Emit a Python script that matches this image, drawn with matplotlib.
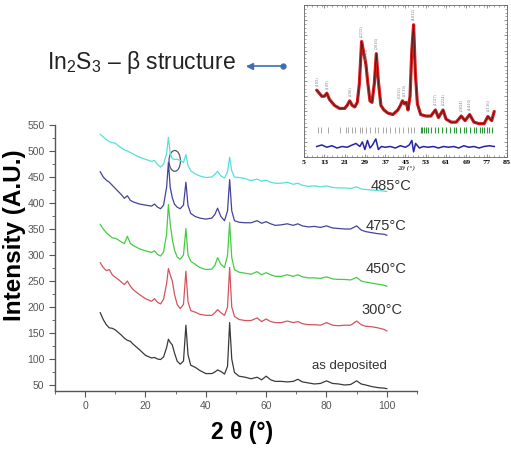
import matplotlib
matplotlib.use("Agg")
import matplotlib.pyplot as plt
from matplotlib.patches import Ellipse
from matplotlib.lines import Line2D

plt.rcParams['font.family'] = ['Liberation Sans', 'DejaVu Sans']
plt.rcParams['mathtext.fontset'] = 'custom'
plt.rcParams['mathtext.rm'] = 'Liberation Sans'

# main XRD patterns, all sampled on the same 2-theta grid
two_theta = [5, 6, 7, 8, 9, 10, 11, 12, 13, 14,
             15, 16, 18, 20, 22, 23, 24, 25, 26, 27,
             27.6, 28.2, 28.9, 29.6, 30.5, 31.5, 32.6, 33.4, 34.1, 35,
             36.5, 38, 40, 42, 43, 43.9, 45, 46.2, 47.2, 47.9,
             48.6, 49.5, 51, 53, 55, 57, 58.5, 60, 61.5, 63,
             65, 67, 69, 70.5, 72, 74, 76, 78, 80, 82,
             84, 86, 88, 90, 91.5, 93, 95, 97, 99, 100]

as_deposited = [189, 176, 166, 160, 159, 156, 151, 146, 140, 136,
                134, 128, 118, 107, 102, 103, 100, 99, 104, 122,
                138, 132, 127, 112, 96, 90, 96, 165, 108, 88,
                84, 78, 72, 72, 75, 79, 76, 71, 86, 170,
                100, 74, 67, 65, 62, 65, 60, 67, 60, 57,
                57, 56, 57, 61, 56, 54, 52, 53, 58, 53,
                52, 50, 51, 58, 52, 50, 47, 45, 44, 43]

t300 = [285, 276, 270, 272, 262, 257, 253, 248, 243, 250,
        240, 233, 224, 216, 211, 216, 209, 206, 215, 245,
        274, 262, 250, 225, 205, 197, 205, 269, 210, 193,
        190, 186, 184, 184, 189, 195, 189, 184, 200, 276,
        200, 182, 176, 174, 174, 179, 172, 177, 172, 170,
        170, 173, 170, 172, 168, 166, 166, 165, 170, 165,
        164, 165, 165, 173, 166, 163, 162, 160, 157, 154]

t450 = [359, 350, 343, 338, 333, 332, 329, 325, 322, 336,
        322, 318, 312, 308, 305, 308, 301, 298, 306, 340,
        397, 360, 330, 310, 296, 292, 300, 351, 300, 288,
        282, 276, 272, 273, 280, 295, 282, 276, 300, 362,
        295, 272, 267, 265, 263, 268, 262, 266, 262, 259,
        259, 262, 259, 262, 258, 256, 256, 255, 258, 254,
        253, 253, 252, 257, 250, 248, 246, 244, 242, 240]

t475 = [460, 450, 444, 440, 434, 428, 422, 416, 409, 414,
        405, 402, 398, 396, 394, 398, 392, 389, 396, 430,
        478, 430, 410, 398, 392, 389, 396, 440, 395, 380,
        374, 371, 369, 371, 378, 390, 374, 366, 385, 445,
        385, 366, 363, 362, 362, 366, 361, 364, 360, 357,
        358, 360, 357, 360, 356, 354, 355, 353, 356, 352,
        351, 350, 350, 356, 348, 345, 343, 341, 340, 338]

t485 = [532, 527, 522, 518, 516, 515, 510, 506, 502, 500,
        497, 494, 488, 484, 480, 482, 474, 469, 475, 495,
        526, 495, 485, 484, 484, 482, 478, 493, 472, 462,
        456, 452, 449, 450, 455, 461, 452, 448, 460, 488,
        462, 450, 449, 447, 443, 446, 442, 444, 440, 438,
        438, 440, 436, 438, 434, 432, 433, 431, 433, 430,
        429, 429, 428, 431, 427, 426, 425, 424, 423, 422]

series = [as_deposited, t300, t450, t475, t485]
series_colors = ['#3a3a3a', '#d4545e', '#45cc45', '#43439c', '#55e0d8']
series_labels = ['as deposited', '300°C', '450°C', '475°C', '485°C']
label_pos = [(100, 86), (91.7, 194), (93, 274), (93, 355), (94.7, 432)]

# inset: Rietveld refinement
inset_x = [10, 11, 12, 13, 14, 15, 16, 17, 18, 19,
           20, 21, 22, 23, 24, 25, 26, 26.8, 27.7, 28.6,
           29.4, 30.2, 31, 31.8, 32.7, 33.5, 34.3, 35.3, 36.5, 38,
           40, 42, 43, 43.8, 44.6, 45.3, 46, 46.8, 47.5, 48.2,
           48.9, 49.7, 51, 53, 55, 56.8, 58, 59.8, 61, 63,
           65, 67, 68.5, 70.3, 72, 74, 76, 77.5, 79, 80]
inset_obs = [44, 42, 40, 40, 42, 38, 36, 34, 33, 32,
             32, 32, 34, 37, 34, 33, 36, 48, 76, 68,
             61, 48, 37, 36, 48, 68, 50, 34, 31, 29,
             28, 31, 34, 37, 35, 36, 31, 40, 70, 87,
             55, 35, 28, 27, 27, 31, 26, 31, 25, 23,
             23, 27, 24, 28, 23, 22, 22, 26.7, 24, 30]

ticks_grey = [10.5, 11.5, 14.5, 19, 21.5, 22.5, 24, 25, 27, 28, 29.5, 31, 33,
              34, 36, 37.5, 39, 41, 42.5, 44, 46, 47, 48.5]
ticks_green = [51, 51.7, 52.4, 53.2, 54, 55, 56.5, 58, 59.5, 61, 62.5, 64, 65,
               66.5, 68, 69, 70.5, 72, 73, 74.5, 75.3, 76, 77, 78, 79]

diff_x = [10, 12, 14, 16, 18, 20, 22, 24, 25.5, 27,
          28, 29, 30, 31, 32, 33.3, 34.3, 35.5, 37, 39,
          41, 43, 45, 46.5, 47.5, 48.2, 49, 50.5, 52, 54,
          56, 58, 60, 62, 64, 66, 68, 70, 72, 74,
          76, 78, 80]
diff_y = [7, 8, 6.5, 7.5, 6, 7, 6.5, 8, 9, 7,
          10, 5, 11, 6, 8, 12, 5, 7, 6.5, 7,
          6, 7.5, 6.5, 8, 11, 3.5, 9, 6, 7, 6.5,
          7, 6, 7, 6.5, 7, 6, 7.5, 6.5, 7, 6,
          7, 7.5, 7]

hkl_pos = [10.2, 14.3, 23, 27.7, 29.4, 33.5, 42.6, 44.3, 48.2, 56.8, 59.8, 67, 70.3, 77.5]
hkl_txt = ['(103)', '(109)', '(206)', '(2212)', '(1015)', '(0016)', '(3012)',
           '(2119)', '(4012)', '(1127)', '(2224)', '(0024)', '(4416)', '(2136)']
hkl_y = [47, 45, 40, 79, 64, 71, 39, 40, 90, 34, 34, 30, 31, 30]

fig = plt.figure(figsize=(5.11, 4.49), dpi=100)

# ---- main panel
ax = fig.add_axes([0.1076, 0.1292, 0.7084, 0.5924])
for ys, c in zip(series, series_colors):
    ax.plot(two_theta, ys, color=c, lw=0.9)
for (lx, ly), t in zip(label_pos, series_labels):
    if t == 'as deposited':
        ax.text(lx, ly, t, fontsize=9.5, color='#333333', ha='right', va='center')
    else:
        ax.text(lx, ly, t, fontsize=10.5, color='#333333', ha='left', va='center')
ax.add_patch(Ellipse((29.7, 481), 3.8, 40, fill=False, ec='#555566', lw=0.9))

ax.set_xlim(-10, 110)
ax.set_ylim(38.5, 550)
ax.xaxis.set_minor_locator(plt.MultipleLocator(10))
ax.yaxis.set_minor_locator(plt.MultipleLocator(25))
ax.set_xticks([0, 20, 40, 60, 80, 100])
ax.set_yticks(range(50, 551, 50))
for s in ['top', 'right']:
    ax.spines[s].set_visible(False)
for s in ['left', 'bottom']:
    ax.spines[s].set_color('#555555')
    ax.spines[s].set_linewidth(1.0)
ax.tick_params(which='both', direction='out', color='#555555',
               labelsize=7.5, labelcolor='#555555')
ax.tick_params(which='major', length=4)
ax.tick_params(which='minor', length=2.5)

# axis titles placed as figure text (pixel positions from the reference)
fig.text(242 / 511, 1 - 432 / 449, '2 θ (°)', fontsize=16.5, fontweight='bold',
         ha='center', va='center')
fig.text(15 / 511, 1 - 235 / 449, 'Intensity (A.U.)', fontsize=17.5,
         fontweight='bold', rotation=90, ha='center', va='center')

# ---- inset panel
ins = fig.add_axes([0.595, 0.650, 0.397, 0.339])
ins.plot(inset_x, inset_obs, color='#d61c1c', lw=2.3, solid_capstyle='round')
ins.plot(inset_x, inset_obs, color='#222222', lw=0.5)
ins.plot(ticks_grey, [18] * len(ticks_grey), ls='none', marker='|',
         ms=4, mew=0.6, color='#999999')
ins.plot(ticks_green, [18] * len(ticks_green), ls='none', marker='|',
         ms=4, mew=0.8, color='#2e9a3a')
ins.plot(diff_x, diff_y, color='#2424a8', lw=1.1)
for xp, yp, t in zip(hkl_pos, hkl_y, hkl_txt):
    ins.text(xp, yp, t, rotation=90, fontsize=2.6, color='#777777',
             ha='center', va='bottom', family='DejaVu Serif')
ins.set_xlim(5, 85)
ins.set_ylim(0, 100)
ins.set_xticks(range(5, 86, 8))
ins.xaxis.set_minor_locator(plt.MultipleLocator(2))
ins.yaxis.set_major_locator(plt.MultipleLocator(10))
ins.yaxis.set_minor_locator(plt.MultipleLocator(2.5))
ins.set_yticklabels([])
ins.tick_params(which='both', direction='in', top=True, right=True,
                color='#666666', labelsize=4.2, pad=2)
ins.tick_params(which='major', length=2.5, width=0.5)
ins.tick_params(which='minor', length=1.2, width=0.4)
for lab in ins.get_xticklabels():
    lab.set_family('DejaVu Serif')
    lab.set_fontweight('bold')
for s in ins.spines.values():
    s.set_linewidth(0.6)
    s.set_color('#666666')
ins.set_xlabel('2θ (°)', fontsize=4.5, style='italic', family='DejaVu Serif',
               labelpad=1)

# ---- annotation
fig.text(47 / 511, 1 - 63 / 449, 'In$_2$S$_3$ – β structure', fontsize=16.5,
         color='#222222', ha='left', va='center')
fig.add_artist(Line2D([248 / 511, 283 / 511], [1 - 66 / 449, 1 - 66 / 449],
                      color='#3b6eb2', lw=1.2))
fig.add_artist(Line2D([283 / 511], [1 - 66 / 449], color='#3b6eb2',
                      marker='o', ms=3.5))
fig.add_artist(Line2D([250 / 511], [1 - 66 / 449], color='#3b6eb2',
                      marker='<', ms=4.5))

fig.savefig('out.png', dpi=100)
